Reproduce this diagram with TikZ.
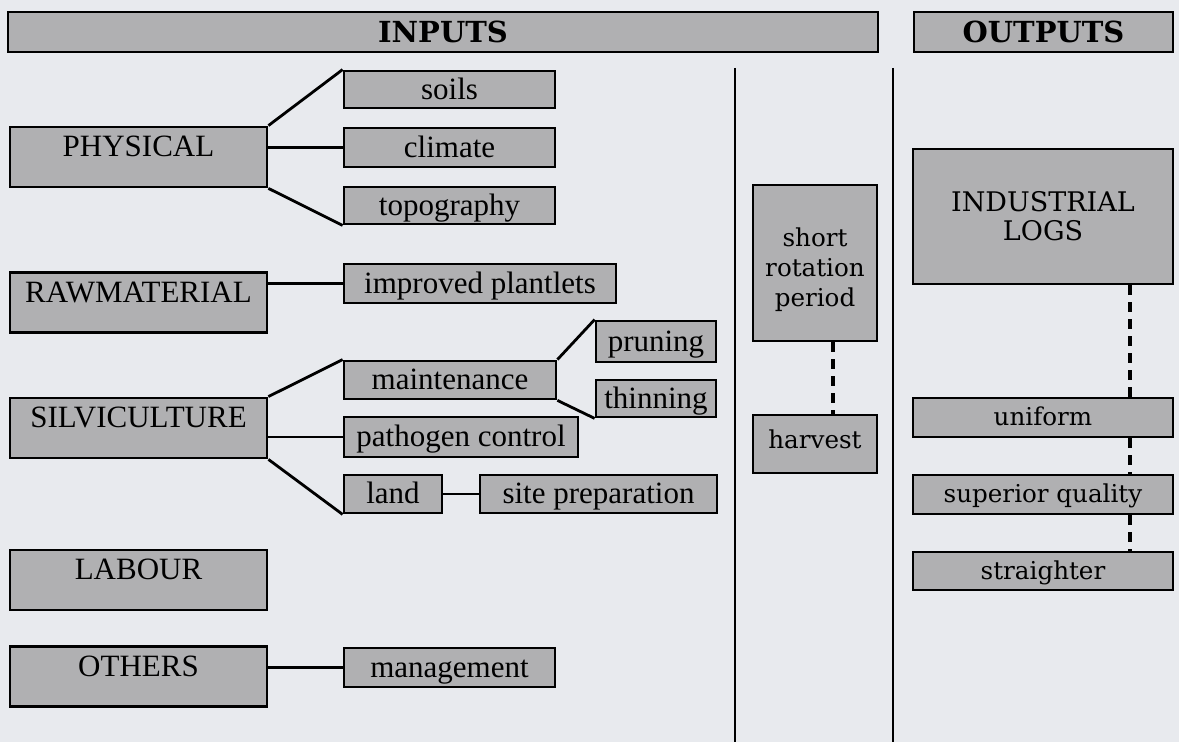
\documentclass[tikz,border=0pt]{standalone}
\usepackage{fontspec}
\setmainfont{Liberation Serif}
\newfontfamily\schfont{DejaVu Serif}
\definecolor{paper}{RGB}{232,234,238}
\definecolor{boxgray}{RGB}{176,176,178}
\tikzset{
	box/.style={draw=black, fill=boxgray, line width=1.4pt, inner sep=0pt,
		font=\fontsize{15.5}{17}\selectfont},
	sz/.style 2 args={minimum width=#1*0.5pt, minimum height=#2*0.5pt},
	bigbox/.style={box, sz={257}{60}, text height=14pt, text depth=14pt},
	smallbox/.style={box, text height=10.5pt, text depth=0.5pt},
	head/.style={box, font=\fontsize{14.5}{16}\schfont\bfseries},
	outbox/.style={box, align=center, font=\fontsize{12.3}{15}\schfont},
	outline/.style={outbox, text height=8.8pt, text depth=0.4pt},
	link/.style={line width=1.4pt},
	dashlink/.style={line width=1.6pt, dash pattern=on 5pt off 3.5pt},
	divider/.style={line width=1.1pt}
}
\begin{document}
\begin{tikzpicture}[x=0.5pt,y=-0.5pt]
	\fill[paper] (0,0) rectangle (1179,742);
	\useasboundingbox (0,0) rectangle (1179,742);

	\node[head, sz={870}{40}] (inputs) at (443,32) {INPUTS};
	\node[head, sz={259}{40}] (outputs) at (1043.5,32) {OUTPUTS};

	\coordinate (divAtop) at (735,68);
	\coordinate (divAbot) at (735,742);
	\coordinate (divBtop) at (893,68);
	\coordinate (divBbot) at (893,742);
	\draw[divider] (divAtop) -- (divAbot);
	\draw[divider] (divBtop) -- (divBbot);

	% inputs
	\node[bigbox] (physical) at (138.5,157) {PHYSICAL};
	\node[bigbox] (raw) at (138.5,302.5) {RAWMATERIAL};
	\node[bigbox] (silvi) at (138.5,428) {SILVICULTURE};
	\node[bigbox] (labour) at (138.5,580) {LABOUR};
	\node[bigbox] (others) at (138.5,676.5) {OTHERS};

	\node[smallbox, sz={211}{37}] (soils) at (449.5,89.5) {soils};
	\node[smallbox, sz={211}{39}] (climate) at (449.5,147.5) {climate};
	\node[smallbox, sz={211}{37}] (topo) at (449.5,205.5) {topography};
	\node[smallbox, sz={272}{39}] (plantlets) at (480,283.5) {improved plantlets};
	\node[smallbox, sz={212}{38}] (maint) at (450,380) {maintenance};
	\node[smallbox, sz={120}{41}] (pruning) at (656,341.5) {pruning};
	\node[smallbox, sz={120}{37}] (thinning) at (656,398.5) {thinning};
	\node[smallbox, sz={234}{40}] (pathogen) at (461,437) {pathogen control};
	\node[smallbox, sz={98}{38}] (land) at (393,494) {land};
	\node[smallbox, sz={237}{38}] (siteprep) at (598.5,494) {site preparation};
	\node[smallbox, sz={211}{39}] (mgmt) at (449.5,667.5) {management};

	\draw[link] (physical.north east) -- (soils.north west);
	\draw[link] (physical.east |- climate.west) -- (climate.west);
	\draw[link] (physical.south east) -- (topo.south west);
	\draw[link] (raw.east |- plantlets.west) -- (plantlets.west);
	\draw[link] (silvi.north east) -- (maint.north west);
	\draw[link] (silvi.east |- pathogen.west) -- (pathogen.west);
	\draw[link] (silvi.south east) -- (land.south west);
	\draw[link] (maint.north east) -- (pruning.north west);
	\draw[link] (maint.south east) -- (thinning.south west);
	\draw[link] (land) -- (siteprep);
	\draw[link] (others.east |- mgmt.west) -- (mgmt.west);

	% middle
	\node[outbox, sz={124}{156}, text height=46pt] (rotation) at (815,263) {short\\rotation\\period};
	\node[outbox, sz={124}{58}, text height=11pt, text depth=6pt] (harvest) at (815,444) {harvest};
	\coordinate (hc) at (833,0);
	\draw[dashlink] (rotation.south -| hc) -- (harvest.north -| hc);

	% outputs
	\node[outbox, sz={260}{135}, font=\fontsize{13.5}{14.5}\schfont] (logs) at (1043,216.5) {INDUSTRIAL\\LOGS};
	\node[outline, sz={260}{39}] (uniform) at (1043,417.5) {uniform};
	\node[outline, sz={260}{39}] (superior) at (1043,494.5) {superior quality};
	\node[outline, sz={260}{38}] (straighter) at (1043,571) {straighter};
	\coordinate (oc) at (1130,0);
	\draw[dashlink] (logs.south -| oc) -- (uniform.north -| oc);
	\draw[dashlink] (uniform.south -| oc) -- (superior.north -| oc);
	\draw[dashlink] (superior.south -| oc) -- (straighter.north -| oc);
\end{tikzpicture}
\end{document}
